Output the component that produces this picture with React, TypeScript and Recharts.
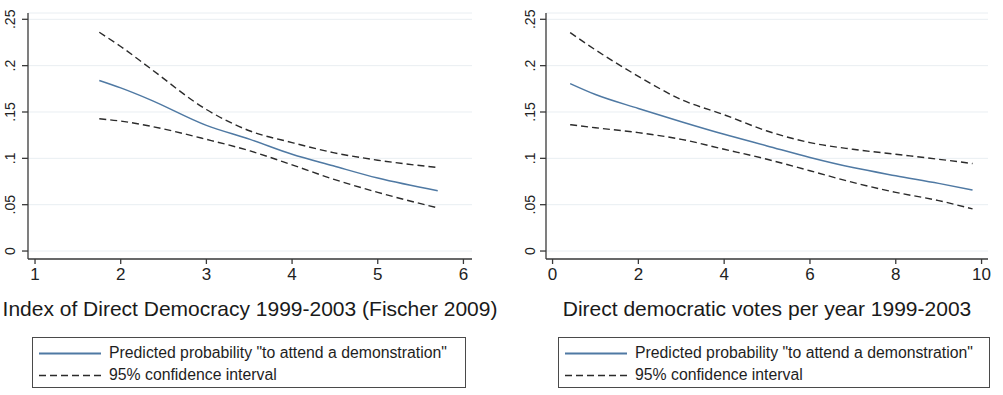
import { LineChart, Line, XAxis, YAxis, CartesianGrid } from 'recharts';

// left panel: index of direct democracy
const indexX = [1.75, 2, 2.34, 3, 3.51, 4, 4.48, 5, 5.7];
const indexPred = [0.184, 0.176, 0.1634, 0.1356, 0.1205, 0.1044, 0.0919, 0.0787, 0.0651];
const indexUpper = [0.236, 0.2207, 0.1974, 0.1527, 0.1295, 0.117, 0.1062, 0.098, 0.0901];
const indexLower = [0.1427, 0.1402, 0.1348, 0.1205, 0.108, 0.093, 0.0776, 0.0633, 0.0465];
const indexTicks = [1, 2, 3, 4, 5, 6];

// right panel: direct democratic votes per year
const votesX = [0.41, 1, 2, 3, 4, 5, 6, 7, 8, 9, 9.79];
const votesPred = [0.1806, 0.1688, 0.1538, 0.1395, 0.1259, 0.1134, 0.1009, 0.09, 0.0812, 0.073, 0.0658];
const votesUpper = [0.2357, 0.217, 0.1885, 0.1634, 0.147, 0.1295, 0.117, 0.1098, 0.1044, 0.099, 0.0944];
const votesLower = [0.1363, 0.133, 0.1277, 0.1205, 0.1098, 0.099, 0.0866, 0.074, 0.0633, 0.0544, 0.0454];
const votesTicks = [0, 2, 4, 6, 8, 10];

const yTicks = [0, 0.05, 0.1, 0.15, 0.2, 0.25];

const FONT = '"Liberation Sans", Arial, Helvetica, sans-serif';
const BLUE = '#4f79a3';
const DASH = '#2b2b2b';
const AXIS = '#3a3a3a';

const fmtY = (v: number) => (v === 0 ? '0' : String(+v.toFixed(2)).replace(/^0\./, '.'));

function RotatedTick(props: any) {
    const { x, y, payload } = props;
    return (
        <text
            x={x}
            y={y}
            transform={`rotate(-90, ${x}, ${y})`}
            textAnchor="middle"
            dy="0.36em"
            fill="#222"
            fontSize={14}
            fontFamily={FONT}
        >
            {fmtY(payload.value)}
        </text>
    );
}

interface PanelProps {
    xs: number[];
    pred: number[];
    upper: number[];
    lower: number[];
    ticks: number[];
    domain: [number, number];
    title: string;
    width: number;
    yAxisWidth: number;
    rightMargin: number;
    tickMargin: number;
}

function Panel({ xs, pred, upper, lower, ticks, domain, title, width, yAxisWidth, rightMargin, tickMargin }: PanelProps) {
    const data = xs.map((x, i) => ({ x, pred: pred[i], upper: upper[i], lower: lower[i] }));
    return (
        <LineChart
            width={width}
            height={330}
            data={data}
            margin={{ top: 13, right: rightMargin, left: 0, bottom: 14 }}
            style={{ fontFamily: FONT }}
        >
            <CartesianGrid vertical={false} stroke="#e9eef2" strokeWidth={1} />
            <XAxis
                type="number"
                dataKey="x"
                domain={domain}
                ticks={ticks}
                allowDataOverflow
                height={57}
                tickSize={5}
                tickMargin={4}
                stroke={AXIS}
                strokeWidth={1.3}
                tick={{ fill: '#222', fontSize: 17 }}
                label={{ value: title, position: 'insideBottom', offset: 0, fill: '#1a1a1a', fontSize: 21 }}
            />
            <YAxis
                type="number"
                domain={[-0.0086, 0.2568]}
                ticks={yTicks}
                allowDataOverflow
                width={yAxisWidth}
                tickSize={6}
                tickMargin={tickMargin}
                stroke={AXIS}
                strokeWidth={1.3}
                tick={<RotatedTick />}
            />
            <Line type="monotone" dataKey="upper" stroke={DASH} strokeWidth={1.4} strokeDasharray="7 4" dot={false} isAnimationActive={false} />
            <Line type="monotone" dataKey="lower" stroke={DASH} strokeWidth={1.4} strokeDasharray="7 4" dot={false} isAnimationActive={false} />
            <Line type="monotone" dataKey="pred" stroke={BLUE} strokeWidth={1.5} dot={false} isAnimationActive={false} />
        </LineChart>
    );
}

function LegendBox({ left, width }: { left: number; width: number }) {
    const rowText = { position: 'absolute' as const, left: 76, fontSize: 15.8, color: '#1e1e1e', lineHeight: '18px' };
    return (
        <div
            style={{
                position: 'absolute',
                left,
                top: 337,
                width,
                height: 51,
                boxSizing: 'border-box',
                border: '1.5px solid #4a4a4a',
                fontFamily: FONT,
            }}
        >
            <svg width={70} height={51} style={{ position: 'absolute', left: 0, top: 0 }}>
                <line x1={6} x2={68} y1={15.5} y2={15.5} stroke={BLUE} strokeWidth={1.8} />
                <line x1={6} x2={68} y1={37.5} y2={37.5} stroke={DASH} strokeWidth={1.4} strokeDasharray="7 4" />
            </svg>
            <div style={{ ...rowText, top: 6 }}>Predicted probability "to attend a demonstration"</div>
            <div style={{ ...rowText, top: 28 }}>95% confidence interval</div>
        </div>
    );
}

export default function App() {
    return (
        <div style={{ position: 'absolute', left: 0, top: 0, width: 1003, height: 395, background: '#fff', overflow: 'hidden' }}>
            <div style={{ position: 'absolute', left: 0, top: 0 }}>
                <Panel
                    xs={indexX}
                    pred={indexPred}
                    upper={indexUpper}
                    lower={indexLower}
                    ticks={indexTicks}
                    domain={[0.918, 6.1]}
                    title="Index of Direct Democracy 1999-2003 (Fischer 2009)"
                    width={500}
                    yAxisWidth={28}
                    rightMargin={28}
                    tickMargin={12}
                />
            </div>
            <div style={{ position: 'absolute', left: 500, top: 0 }}>
                <Panel
                    xs={votesX}
                    pred={votesPred}
                    upper={votesUpper}
                    lower={votesLower}
                    ticks={votesTicks}
                    domain={[-0.153, 10.15]}
                    title="Direct democratic votes per year 1999-2003"
                    width={503}
                    yAxisWidth={46}
                    rightMargin={15}
                    tickMargin={10}
                />
            </div>
            <LegendBox left={32} width={434} />
            <LegendBox left={558} width={432} />
        </div>
    );
}
